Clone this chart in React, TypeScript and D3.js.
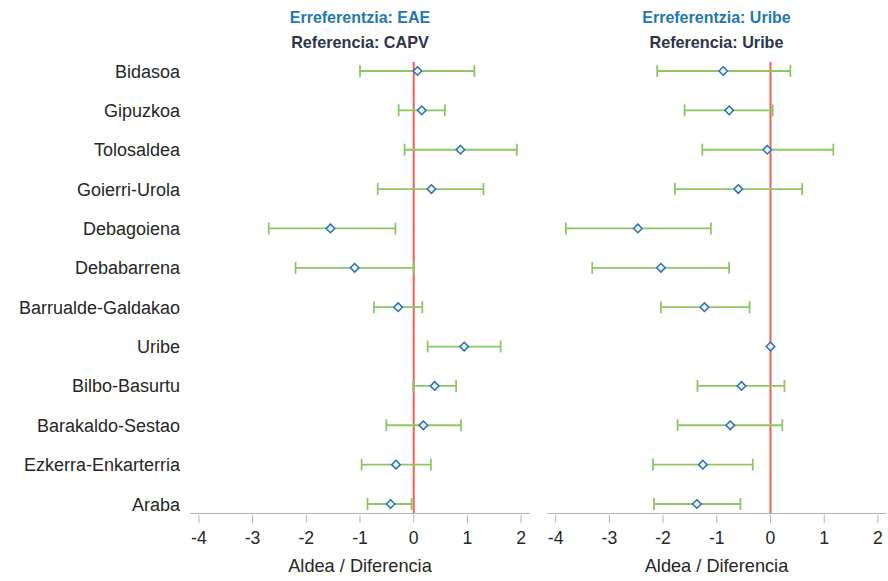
import React from "react";
import * as d3 from "d3";

const categories = [
  "Bidasoa",
  "Gipuzkoa",
  "Tolosaldea",
  "Goierri-Urola",
  "Debagoiena",
  "Debabarrena",
  "Barrualde-Galdakao",
  "Uribe",
  "Bilbo-Basurtu",
  "Barakaldo-Sestao",
  "Ezkerra-Enkarterria",
  "Araba",
];

// Panel 1: reference EAE / CAPV
const eaeValue = [0.07, 0.15, 0.87, 0.33, -1.55, -1.1, -0.29, 0.94, 0.39, 0.18, -0.33, -0.43];
const eaeLow = [-1.0, -0.28, -0.17, -0.67, -2.7, -2.2, -0.74, 0.26, -0.01, -0.51, -0.97, -0.86];
const eaeHigh = [1.13, 0.58, 1.92, 1.3, -0.34, 0.0, 0.16, 1.62, 0.79, 0.88, 0.32, -0.04];

// Panel 2: reference Uribe
const uribeValue = [-0.88, -0.77, -0.06, -0.6, -2.47, -2.04, -1.23, 0.0, -0.54, -0.75, -1.26, -1.37];
const uribeLow = [-2.11, -1.6, -1.27, -1.78, -3.81, -3.32, -2.04, 0.0, -1.36, -1.73, -2.19, -2.17];
const uribeHigh = [0.37, 0.04, 1.17, 0.59, -1.11, -0.77, -0.39, 0.0, 0.26, 0.22, -0.33, -0.56];

const xTicks = [-4, -3, -2, -1, 0, 1, 2];
const axisTitle = "Aldea / Diferencia";

const panels = [
  { title1: "Erreferentzia: EAE", title2: "Referencia: CAPV", value: eaeValue, low: eaeLow, high: eaeHigh, x0: 198.9, lineStart: 190, lineEnd: 530 },
  { title1: "Erreferentzia: Uribe", title2: "Referencia: Uribe", value: uribeValue, low: uribeLow, high: uribeHigh, x0: 555.7, lineStart: 547, lineEnd: 886 },
];

const W = 888;
const H = 581;
const axisY = 513;
const font = "Arial, 'Liberation Sans', Helvetica, sans-serif";

export default function App() {
  const y = d3.scalePoint<string>().domain(categories).range([71, 504]);
  const unit = 53.7;

  return (
    <svg width={W} height={H} style={{ position: "absolute", left: 0, top: 0, background: "#fff" }}>
      {categories.map((c) => (
        <text key={c} x={180} y={(y(c) as number) + 6.5} textAnchor="end" fontFamily={font} fontSize={18} fill="#262626">
          {c}
        </text>
      ))}
      {panels.map((p, pi) => {
        const x = d3.scaleLinear().domain([-4, 2]).range([p.x0, p.x0 + 6 * unit]);
        const cx = (p.lineStart + p.lineEnd) / 2;
        return (
          <g key={pi}>
            <text x={cx} y={22.5} textAnchor="middle" fontFamily={font} fontWeight="bold" fontSize={16} fill="#1f78b0">
              {p.title1}
            </text>
            <text x={cx} y={48.3} textAnchor="middle" fontFamily={font} fontWeight="bold" fontSize={16.2} fill="#2b3547">
              {p.title2}
            </text>
            <line x1={p.lineStart} x2={p.lineEnd} y1={axisY + 0.5} y2={axisY + 0.5} stroke="#b3b3b3" strokeWidth={1} />
            {xTicks.map((t) => (
              <g key={t}>
                <line x1={x(t)} x2={x(t)} y1={axisY + 2} y2={axisY + 10} stroke="#b3b3b3" strokeWidth={1} />
                <text x={x(t)} y={543.5} textAnchor="middle" fontFamily={font} fontSize={17.6} fill="#262626">
                  {t}
                </text>
              </g>
            ))}
            <text x={cx} y={572} textAnchor="middle" fontFamily={font} fontSize={18.2} fill="#262626">
              {axisTitle}
            </text>
            <line x1={x(0)} x2={x(0)} y1={62} y2={axisY} stroke="#f0604f" strokeWidth={2} />
            {categories.map((c, i) => {
              const cy = y(c) as number;
              const lo = p.low[i];
              const hi = p.high[i];
              const v = p.value[i];
              const r = 4.3;
              return (
                <g key={c}>
                  {lo !== hi && (
                    <g stroke="#8cc862" strokeWidth={1.8}>
                      <line x1={x(lo)} x2={x(hi)} y1={cy} y2={cy} />
                      <line x1={x(lo)} x2={x(lo)} y1={cy - 6} y2={cy + 6} />
                      <line x1={x(hi)} x2={x(hi)} y1={cy - 6} y2={cy + 6} />
                    </g>
                  )}
                  <path
                    d={`M${x(v)},${cy - r}L${x(v) + r},${cy}L${x(v)},${cy + r}L${x(v) - r},${cy}Z`}
                    fill="#e6f6f7"
                    stroke="#2f6fb0"
                    strokeWidth={1.5}
                  />
                </g>
              );
            })}
          </g>
        );
      })}
    </svg>
  );
}
